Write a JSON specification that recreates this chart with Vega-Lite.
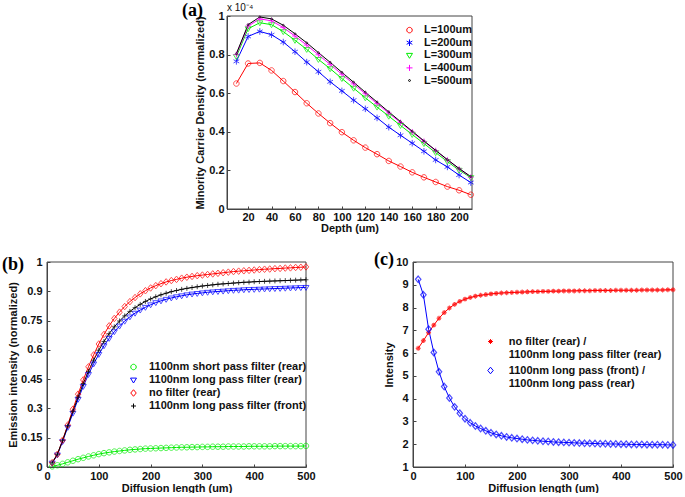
{
  "$schema": "https://vega.github.io/schema/vega-lite/v6.json",
  "background": "white",
  "padding": {"left": 2, "top": 2, "right": 0, "bottom": 0},
  "spacing": 17,
  "resolve": {"scale": {"color": "independent", "shape": "independent", "x": "independent", "y": "independent"}},
  "vconcat": [
    {
      "bounds": "flush",
      "spacing": 10,
      "resolve": {"scale": {"color": "independent", "shape": "independent", "x": "independent", "y": "independent"}},
      "hconcat": [
        {
          "width": 170, "height": 10,
          "view": {"stroke": null},
          "data": {"values": [{}]},
          "mark": {"type": "point", "opacity": 0}
        },
        {
          "width": 245, "height": 193,
          "title": {"text": "(a)", "dx": -45, "dy": 21},
          "data": {"values": [
            {"x":10,"s":"L=100um","y":0.650},{"x":20,"s":"L=100um","y":0.754},{"x":30,"s":"L=100um","y":0.757},{"x":40,"s":"L=100um","y":0.718},{"x":50,"s":"L=100um","y":0.663},{"x":60,"s":"L=100um","y":0.606},{"x":70,"s":"L=100um","y":0.548},{"x":80,"s":"L=100um","y":0.495},{"x":90,"s":"L=100um","y":0.445},{"x":100,"s":"L=100um","y":0.398},{"x":110,"s":"L=100um","y":0.356},{"x":120,"s":"L=100um","y":0.318},{"x":130,"s":"L=100um","y":0.284},{"x":140,"s":"L=100um","y":0.249},{"x":150,"s":"L=100um","y":0.220},{"x":160,"s":"L=100um","y":0.190},{"x":170,"s":"L=100um","y":0.164},{"x":180,"s":"L=100um","y":0.140},{"x":190,"s":"L=100um","y":0.116},{"x":200,"s":"L=100um","y":0.097},{"x":210,"s":"L=100um","y":0.074},
            {"x":10,"s":"L=200um","y":0.765},{"x":20,"s":"L=200um","y":0.894},{"x":30,"s":"L=200um","y":0.920},{"x":40,"s":"L=200um","y":0.903},{"x":50,"s":"L=200um","y":0.865},{"x":60,"s":"L=200um","y":0.815},{"x":70,"s":"L=200um","y":0.761},{"x":80,"s":"L=200um","y":0.711},{"x":90,"s":"L=200um","y":0.659},{"x":100,"s":"L=200um","y":0.612},{"x":110,"s":"L=200um","y":0.564},{"x":120,"s":"L=200um","y":0.519},{"x":130,"s":"L=200um","y":0.472},{"x":140,"s":"L=200um","y":0.424},{"x":150,"s":"L=200um","y":0.382},{"x":160,"s":"L=200um","y":0.341},{"x":170,"s":"L=200um","y":0.299},{"x":180,"s":"L=200um","y":0.254},{"x":190,"s":"L=200um","y":0.218},{"x":200,"s":"L=200um","y":0.176},{"x":210,"s":"L=200um","y":0.137},
            {"x":10,"s":"L=300um","y":0.790},{"x":20,"s":"L=300um","y":0.934},{"x":30,"s":"L=300um","y":0.965},{"x":40,"s":"L=300um","y":0.955},{"x":50,"s":"L=300um","y":0.919},{"x":60,"s":"L=300um","y":0.874},{"x":70,"s":"L=300um","y":0.827},{"x":80,"s":"L=300um","y":0.775},{"x":90,"s":"L=300um","y":0.727},{"x":100,"s":"L=300um","y":0.676},{"x":110,"s":"L=300um","y":0.626},{"x":120,"s":"L=300um","y":0.576},{"x":130,"s":"L=300um","y":0.528},{"x":140,"s":"L=300um","y":0.481},{"x":150,"s":"L=300um","y":0.433},{"x":160,"s":"L=300um","y":0.386},{"x":170,"s":"L=300um","y":0.339},{"x":180,"s":"L=300um","y":0.292},{"x":190,"s":"L=300um","y":0.246},{"x":200,"s":"L=300um","y":0.201},{"x":210,"s":"L=300um","y":0.163},
            {"x":10,"s":"L=400um","y":0.800},{"x":20,"s":"L=400um","y":0.948},{"x":30,"s":"L=400um","y":0.985},{"x":40,"s":"L=400um","y":0.975},{"x":50,"s":"L=400um","y":0.940},{"x":60,"s":"L=400um","y":0.896},{"x":70,"s":"L=400um","y":0.849},{"x":80,"s":"L=400um","y":0.799},{"x":90,"s":"L=400um","y":0.749},{"x":100,"s":"L=400um","y":0.698},{"x":110,"s":"L=400um","y":0.648},{"x":120,"s":"L=400um","y":0.597},{"x":130,"s":"L=400um","y":0.546},{"x":140,"s":"L=400um","y":0.497},{"x":150,"s":"L=400um","y":0.448},{"x":160,"s":"L=400um","y":0.399},{"x":170,"s":"L=400um","y":0.350},{"x":180,"s":"L=400um","y":0.302},{"x":190,"s":"L=400um","y":0.254},{"x":200,"s":"L=400um","y":0.208},{"x":210,"s":"L=400um","y":0.165},
            {"x":10,"s":"L=500um","y":0.805},{"x":20,"s":"L=500um","y":0.955},{"x":30,"s":"L=500um","y":0.995},{"x":40,"s":"L=500um","y":0.985},{"x":50,"s":"L=500um","y":0.952},{"x":60,"s":"L=500um","y":0.908},{"x":70,"s":"L=500um","y":0.861},{"x":80,"s":"L=500um","y":0.810},{"x":90,"s":"L=500um","y":0.760},{"x":100,"s":"L=500um","y":0.708},{"x":110,"s":"L=500um","y":0.657},{"x":120,"s":"L=500um","y":0.605},{"x":130,"s":"L=500um","y":0.554},{"x":140,"s":"L=500um","y":0.503},{"x":150,"s":"L=500um","y":0.453},{"x":160,"s":"L=500um","y":0.403},{"x":170,"s":"L=500um","y":0.353},{"x":180,"s":"L=500um","y":0.304},{"x":190,"s":"L=500um","y":0.256},{"x":200,"s":"L=500um","y":0.210},{"x":210,"s":"L=500um","y":0.168}
          ]},
          "encoding": {
            "x": {"field": "x", "type": "quantitative", "scale": {"domain": [2, 211], "nice": false, "zero": false},
                  "axis": {"title": "Depth (um)", "values": [20,40,60,80,100,120,140,160,180,200], "labelPadding": 5, "titlePadding": 0}},
            "y": {"field": "y", "type": "quantitative", "scale": {"domain": [0, 1], "nice": false},
                  "axis": {"title": "Minority Carrier Density (normalized)", "values": [0,0.2,0.4,0.6,0.8,1], "format": ".1~f", "labelPadding": 6, "titlePadding": 3}}
          },
          "layer": [
            {
              "transform": [{"filter": {"and": [{"field": "s", "equal": "L=100um"}, {"field": "x", "equal": 10}]}}],
              "mark": {"type": "rect", "filled": false, "color": "#444", "strokeWidth": 1},
              "encoding": {"x": {"datum": 2}, "x2": {"datum": 211}, "y": {"datum": 0}, "y2": {"datum": 1}}
            },
            {
              "mark": {"type": "line", "strokeWidth": 1},
              "encoding": {
                "color": {"field": "s", "type": "nominal",
                  "scale": {"domain": ["L=100um","L=200um","L=300um","L=400um","L=500um"], "range": ["#ff0000","#0000ff","#00ee00","#ff00ff","#000000"]},
                  "legend": {"title": null, "orient": "none", "legendX": 177, "legendY": 8.6, "symbolSize": 30, "labelOffset": 9, "rowPadding": 0.6}}
              }
            },
            {
              "mark": {"type": "point", "filled": false, "strokeWidth": 1, "size": 30},
              "encoding": {
                "color": {"field": "s", "type": "nominal", "legend": null},
                "shape": {"field": "s", "type": "nominal", "legend": null,
                  "scale": {"domain": ["L=100um","L=200um","L=300um","L=400um","L=500um"],
                    "range": ["M1,0A1,1,0,1,1,-1,0A1,1,0,1,1,1,0", "M0,-1.2L0,1.2M-1.04,-0.6L1.04,0.6M-1.04,0.6L1.04,-0.6", "M-1.1,-0.7L1.1,-0.7L0,1.1Z", "M-1.1,0L1.1,0M0,-1.1L0,1.1", "M0.35,0A0.35,0.35,0,1,1,-0.35,0A0.35,0.35,0,1,1,0.35,0"]}}
              }
            },
            {
              "transform": [{"filter": {"and": [{"field": "s", "equal": "L=100um"}, {"field": "x", "equal": 10}]}}],
              "mark": {"type": "text", "align": "left", "baseline": "bottom", "dx": 0, "dy": -3, "fontSize": 10, "font": "Liberation Sans", "color": "#111", "text": "x 10⁻⁴"},
              "encoding": {"x": {"datum": 2}, "y": {"datum": 1}}
            }
          ]
        }
      ]
    },
    {
      "bounds": "flush",
      "spacing": 107,
      "resolve": {"scale": {"color": "independent", "shape": "independent", "x": "independent", "y": "independent"}},
      "hconcat": [
        {
          "width": 259, "height": 205,
          "title": {"text": "(b)", "dx": -45, "dy": 22},
          "data": {"values": [
            {"x":10,"s":"1100nm short pass filter (rear)","y":0.003},{"x":20,"s":"1100nm short pass filter (rear)","y":0.009},{"x":30,"s":"1100nm short pass filter (rear)","y":0.016},{"x":40,"s":"1100nm short pass filter (rear)","y":0.024},{"x":50,"s":"1100nm short pass filter (rear)","y":0.032},{"x":60,"s":"1100nm short pass filter (rear)","y":0.040},{"x":70,"s":"1100nm short pass filter (rear)","y":0.047},{"x":80,"s":"1100nm short pass filter (rear)","y":0.054},{"x":90,"s":"1100nm short pass filter (rear)","y":0.060},{"x":100,"s":"1100nm short pass filter (rear)","y":0.066},
            {"x":110,"s":"1100nm short pass filter (rear)","y":0.071},{"x":120,"s":"1100nm short pass filter (rear)","y":0.075},{"x":130,"s":"1100nm short pass filter (rear)","y":0.079},{"x":140,"s":"1100nm short pass filter (rear)","y":0.082},{"x":150,"s":"1100nm short pass filter (rear)","y":0.085},{"x":160,"s":"1100nm short pass filter (rear)","y":0.088},{"x":170,"s":"1100nm short pass filter (rear)","y":0.090},{"x":180,"s":"1100nm short pass filter (rear)","y":0.092},{"x":190,"s":"1100nm short pass filter (rear)","y":0.094},{"x":200,"s":"1100nm short pass filter (rear)","y":0.095},
            {"x":210,"s":"1100nm short pass filter (rear)","y":0.096},{"x":220,"s":"1100nm short pass filter (rear)","y":0.097},{"x":230,"s":"1100nm short pass filter (rear)","y":0.098},{"x":240,"s":"1100nm short pass filter (rear)","y":0.099},{"x":250,"s":"1100nm short pass filter (rear)","y":0.100},{"x":260,"s":"1100nm short pass filter (rear)","y":0.101},{"x":270,"s":"1100nm short pass filter (rear)","y":0.101},{"x":280,"s":"1100nm short pass filter (rear)","y":0.102},{"x":290,"s":"1100nm short pass filter (rear)","y":0.102},{"x":300,"s":"1100nm short pass filter (rear)","y":0.103},
            {"x":310,"s":"1100nm short pass filter (rear)","y":0.103},{"x":320,"s":"1100nm short pass filter (rear)","y":0.104},{"x":330,"s":"1100nm short pass filter (rear)","y":0.104},{"x":340,"s":"1100nm short pass filter (rear)","y":0.104},{"x":350,"s":"1100nm short pass filter (rear)","y":0.105},{"x":360,"s":"1100nm short pass filter (rear)","y":0.105},{"x":370,"s":"1100nm short pass filter (rear)","y":0.105},{"x":380,"s":"1100nm short pass filter (rear)","y":0.105},{"x":390,"s":"1100nm short pass filter (rear)","y":0.106},{"x":400,"s":"1100nm short pass filter (rear)","y":0.106},
            {"x":410,"s":"1100nm short pass filter (rear)","y":0.106},{"x":420,"s":"1100nm short pass filter (rear)","y":0.106},{"x":430,"s":"1100nm short pass filter (rear)","y":0.106},{"x":440,"s":"1100nm short pass filter (rear)","y":0.107},{"x":450,"s":"1100nm short pass filter (rear)","y":0.107},{"x":460,"s":"1100nm short pass filter (rear)","y":0.107},{"x":470,"s":"1100nm short pass filter (rear)","y":0.107},{"x":480,"s":"1100nm short pass filter (rear)","y":0.107},{"x":490,"s":"1100nm short pass filter (rear)","y":0.107},{"x":500,"s":"1100nm short pass filter (rear)","y":0.108},
            {"x":10,"s":"1100nm long pass filter (rear)","y":0.020},{"x":20,"s":"1100nm long pass filter (rear)","y":0.062},{"x":30,"s":"1100nm long pass filter (rear)","y":0.130},{"x":40,"s":"1100nm long pass filter (rear)","y":0.203},{"x":50,"s":"1100nm long pass filter (rear)","y":0.276},{"x":60,"s":"1100nm long pass filter (rear)","y":0.347},{"x":70,"s":"1100nm long pass filter (rear)","y":0.413},{"x":80,"s":"1100nm long pass filter (rear)","y":0.474},{"x":90,"s":"1100nm long pass filter (rear)","y":0.528},{"x":100,"s":"1100nm long pass filter (rear)","y":0.577},
            {"x":110,"s":"1100nm long pass filter (rear)","y":0.621},{"x":120,"s":"1100nm long pass filter (rear)","y":0.659},{"x":130,"s":"1100nm long pass filter (rear)","y":0.693},{"x":140,"s":"1100nm long pass filter (rear)","y":0.722},{"x":150,"s":"1100nm long pass filter (rear)","y":0.747},{"x":160,"s":"1100nm long pass filter (rear)","y":0.769},{"x":170,"s":"1100nm long pass filter (rear)","y":0.788},{"x":180,"s":"1100nm long pass filter (rear)","y":0.804},{"x":190,"s":"1100nm long pass filter (rear)","y":0.818},{"x":200,"s":"1100nm long pass filter (rear)","y":0.831},
            {"x":210,"s":"1100nm long pass filter (rear)","y":0.842},{"x":220,"s":"1100nm long pass filter (rear)","y":0.851},{"x":230,"s":"1100nm long pass filter (rear)","y":0.859},{"x":240,"s":"1100nm long pass filter (rear)","y":0.866},{"x":250,"s":"1100nm long pass filter (rear)","y":0.872},{"x":260,"s":"1100nm long pass filter (rear)","y":0.877},{"x":270,"s":"1100nm long pass filter (rear)","y":0.882},{"x":280,"s":"1100nm long pass filter (rear)","y":0.886},{"x":290,"s":"1100nm long pass filter (rear)","y":0.889},{"x":300,"s":"1100nm long pass filter (rear)","y":0.892},
            {"x":310,"s":"1100nm long pass filter (rear)","y":0.895},{"x":320,"s":"1100nm long pass filter (rear)","y":0.897},{"x":330,"s":"1100nm long pass filter (rear)","y":0.899},{"x":340,"s":"1100nm long pass filter (rear)","y":0.901},{"x":350,"s":"1100nm long pass filter (rear)","y":0.903},{"x":360,"s":"1100nm long pass filter (rear)","y":0.905},{"x":370,"s":"1100nm long pass filter (rear)","y":0.906},{"x":380,"s":"1100nm long pass filter (rear)","y":0.908},{"x":390,"s":"1100nm long pass filter (rear)","y":0.909},{"x":400,"s":"1100nm long pass filter (rear)","y":0.910},
            {"x":410,"s":"1100nm long pass filter (rear)","y":0.911},{"x":420,"s":"1100nm long pass filter (rear)","y":0.912},{"x":430,"s":"1100nm long pass filter (rear)","y":0.913},{"x":440,"s":"1100nm long pass filter (rear)","y":0.914},{"x":450,"s":"1100nm long pass filter (rear)","y":0.915},{"x":460,"s":"1100nm long pass filter (rear)","y":0.916},{"x":470,"s":"1100nm long pass filter (rear)","y":0.917},{"x":480,"s":"1100nm long pass filter (rear)","y":0.918},{"x":490,"s":"1100nm long pass filter (rear)","y":0.919},{"x":500,"s":"1100nm long pass filter (rear)","y":0.920},
            {"x":10,"s":"no filter (rear)","y":0.022},{"x":20,"s":"no filter (rear)","y":0.065},{"x":30,"s":"no filter (rear)","y":0.137},{"x":40,"s":"no filter (rear)","y":0.215},{"x":50,"s":"no filter (rear)","y":0.296},{"x":60,"s":"no filter (rear)","y":0.373},{"x":70,"s":"no filter (rear)","y":0.446},{"x":80,"s":"no filter (rear)","y":0.513},{"x":90,"s":"no filter (rear)","y":0.574},{"x":100,"s":"no filter (rear)","y":0.630},
            {"x":110,"s":"no filter (rear)","y":0.679},{"x":120,"s":"no filter (rear)","y":0.723},{"x":130,"s":"no filter (rear)","y":0.761},{"x":140,"s":"no filter (rear)","y":0.793},{"x":150,"s":"no filter (rear)","y":0.822},{"x":160,"s":"no filter (rear)","y":0.847},{"x":170,"s":"no filter (rear)","y":0.868},{"x":180,"s":"no filter (rear)","y":0.887},{"x":190,"s":"no filter (rear)","y":0.903},{"x":200,"s":"no filter (rear)","y":0.917},
            {"x":210,"s":"no filter (rear)","y":0.929},{"x":220,"s":"no filter (rear)","y":0.939},{"x":230,"s":"no filter (rear)","y":0.948},{"x":240,"s":"no filter (rear)","y":0.955},{"x":250,"s":"no filter (rear)","y":0.961},{"x":260,"s":"no filter (rear)","y":0.967},{"x":270,"s":"no filter (rear)","y":0.972},{"x":280,"s":"no filter (rear)","y":0.976},{"x":290,"s":"no filter (rear)","y":0.980},{"x":300,"s":"no filter (rear)","y":0.983},
            {"x":310,"s":"no filter (rear)","y":0.986},{"x":320,"s":"no filter (rear)","y":0.989},{"x":330,"s":"no filter (rear)","y":0.992},{"x":340,"s":"no filter (rear)","y":0.995},{"x":350,"s":"no filter (rear)","y":0.998},{"x":360,"s":"no filter (rear)","y":1.001},{"x":370,"s":"no filter (rear)","y":1.003},{"x":380,"s":"no filter (rear)","y":1.005},{"x":390,"s":"no filter (rear)","y":1.007},{"x":400,"s":"no filter (rear)","y":1.009},
            {"x":410,"s":"no filter (rear)","y":1.011},{"x":420,"s":"no filter (rear)","y":1.013},{"x":430,"s":"no filter (rear)","y":1.014},{"x":440,"s":"no filter (rear)","y":1.016},{"x":450,"s":"no filter (rear)","y":1.017},{"x":460,"s":"no filter (rear)","y":1.019},{"x":470,"s":"no filter (rear)","y":1.020},{"x":480,"s":"no filter (rear)","y":1.022},{"x":490,"s":"no filter (rear)","y":1.023},{"x":500,"s":"no filter (rear)","y":1.025},
            {"x":10,"s":"1100nm long pass filter (front)","y":0.022},{"x":20,"s":"1100nm long pass filter (front)","y":0.065},{"x":30,"s":"1100nm long pass filter (front)","y":0.135},{"x":40,"s":"1100nm long pass filter (front)","y":0.210},{"x":50,"s":"1100nm long pass filter (front)","y":0.285},{"x":60,"s":"1100nm long pass filter (front)","y":0.358},{"x":70,"s":"1100nm long pass filter (front)","y":0.427},{"x":80,"s":"1100nm long pass filter (front)","y":0.490},{"x":90,"s":"1100nm long pass filter (front)","y":0.547},{"x":100,"s":"1100nm long pass filter (front)","y":0.598},
            {"x":110,"s":"1100nm long pass filter (front)","y":0.643},{"x":120,"s":"1100nm long pass filter (front)","y":0.683},{"x":130,"s":"1100nm long pass filter (front)","y":0.718},{"x":140,"s":"1100nm long pass filter (front)","y":0.748},{"x":150,"s":"1100nm long pass filter (front)","y":0.774},{"x":160,"s":"1100nm long pass filter (front)","y":0.797},{"x":170,"s":"1100nm long pass filter (front)","y":0.816},{"x":180,"s":"1100nm long pass filter (front)","y":0.833},{"x":190,"s":"1100nm long pass filter (front)","y":0.848},{"x":200,"s":"1100nm long pass filter (front)","y":0.861},
            {"x":210,"s":"1100nm long pass filter (front)","y":0.872},{"x":220,"s":"1100nm long pass filter (front)","y":0.882},{"x":230,"s":"1100nm long pass filter (front)","y":0.890},{"x":240,"s":"1100nm long pass filter (front)","y":0.898},{"x":250,"s":"1100nm long pass filter (front)","y":0.904},{"x":260,"s":"1100nm long pass filter (front)","y":0.910},{"x":270,"s":"1100nm long pass filter (front)","y":0.915},{"x":280,"s":"1100nm long pass filter (front)","y":0.919},{"x":290,"s":"1100nm long pass filter (front)","y":0.923},{"x":300,"s":"1100nm long pass filter (front)","y":0.927},
            {"x":310,"s":"1100nm long pass filter (front)","y":0.930},{"x":320,"s":"1100nm long pass filter (front)","y":0.933},{"x":330,"s":"1100nm long pass filter (front)","y":0.936},{"x":340,"s":"1100nm long pass filter (front)","y":0.938},{"x":350,"s":"1100nm long pass filter (front)","y":0.940},{"x":360,"s":"1100nm long pass filter (front)","y":0.942},{"x":370,"s":"1100nm long pass filter (front)","y":0.944},{"x":380,"s":"1100nm long pass filter (front)","y":0.946},{"x":390,"s":"1100nm long pass filter (front)","y":0.947},{"x":400,"s":"1100nm long pass filter (front)","y":0.949},
            {"x":410,"s":"1100nm long pass filter (front)","y":0.950},{"x":420,"s":"1100nm long pass filter (front)","y":0.951},{"x":430,"s":"1100nm long pass filter (front)","y":0.952},{"x":440,"s":"1100nm long pass filter (front)","y":0.953},{"x":450,"s":"1100nm long pass filter (front)","y":0.954},{"x":460,"s":"1100nm long pass filter (front)","y":0.955},{"x":470,"s":"1100nm long pass filter (front)","y":0.956},{"x":480,"s":"1100nm long pass filter (front)","y":0.957},{"x":490,"s":"1100nm long pass filter (front)","y":0.958},{"x":500,"s":"1100nm long pass filter (front)","y":0.959}
          ]},
          "encoding": {
            "x": {"field": "x", "type": "quantitative", "scale": {"domain": [0, 500], "nice": false},
                  "axis": {"title": "Diffusion length (um)", "values": [0,100,200,300,400,500], "labelPadding": 6, "titlePadding": 1}},
            "y": {"field": "y", "type": "quantitative", "scale": {"domain": [0, 1.05], "nice": false},
                  "axis": {"title": "Emission intensity (normalized)", "values": [0,0.15,0.3,0.45,0.6,0.75,0.9,1.05], "labelExpr": "datum.value > 1 ? '1' : format(datum.value, '.2~f')", "labelPadding": 8, "titlePadding": 2}}
          },
          "layer": [
            {
              "transform": [{"filter": {"and": [{"field": "s", "equal": "no filter (rear)"}, {"field": "x", "equal": 10}]}}],
              "mark": {"type": "rect", "filled": false, "color": "#444", "strokeWidth": 1},
              "encoding": {"x": {"datum": 0}, "x2": {"datum": 500}, "y": {"datum": 0}, "y2": {"datum": 1.05}}
            },
            {
              "mark": {"type": "line", "strokeWidth": 1},
              "encoding": {
                "color": {"field": "s", "type": "nominal",
                  "scale": {"domain": ["1100nm short pass filter (rear)","1100nm long pass filter (rear)","no filter (rear)","1100nm long pass filter (front)"], "range": ["#00ee00","#0000ff","#ff0000","#000000"]},
                  "legend": {"title": null, "orient": "none", "legendX": 81, "legendY": 99.5, "symbolSize": 30, "labelOffset": 10, "rowPadding": 1}}
              }
            },
            {
              "mark": {"type": "point", "filled": false, "strokeWidth": 1, "size": 30},
              "encoding": {
                "color": {"field": "s", "type": "nominal", "legend": null},
                "shape": {"field": "s", "type": "nominal", "legend": null,
                  "scale": {"domain": ["1100nm short pass filter (rear)","1100nm long pass filter (rear)","no filter (rear)","1100nm long pass filter (front)"],
                    "range": ["M1,0A1,1,0,1,1,-1,0A1,1,0,1,1,1,0", "M-1.1,-0.7L1.1,-0.7L0,1.1Z", "M0,-1.2L1,0L0,1.2L-1,0Z", "M-0.9,0L0.9,0M0,-0.9L0,0.9"]}}
              }
            }
          ]
        },
        {
          "width": 260, "height": 205,
          "title": {"text": "(c)", "dx": -39, "dy": 16.7},
          "data": {"values": [
            {"x":10,"s":"no filter (rear) / 1100nm long pass filter (rear)","y":6.21},{"x":20,"s":"no filter (rear) / 1100nm long pass filter (rear)","y":6.55},{"x":30,"s":"no filter (rear) / 1100nm long pass filter (rear)","y":6.90},{"x":40,"s":"no filter (rear) / 1100nm long pass filter (rear)","y":7.23},{"x":50,"s":"no filter (rear) / 1100nm long pass filter (rear)","y":7.53},{"x":60,"s":"no filter (rear) / 1100nm long pass filter (rear)","y":7.78},{"x":70,"s":"no filter (rear) / 1100nm long pass filter (rear)","y":7.98},{"x":80,"s":"no filter (rear) / 1100nm long pass filter (rear)","y":8.14},{"x":90,"s":"no filter (rear) / 1100nm long pass filter (rear)","y":8.27},{"x":100,"s":"no filter (rear) / 1100nm long pass filter (rear)","y":8.37},
            {"x":110,"s":"no filter (rear) / 1100nm long pass filter (rear)","y":8.44},{"x":120,"s":"no filter (rear) / 1100nm long pass filter (rear)","y":8.50},{"x":130,"s":"no filter (rear) / 1100nm long pass filter (rear)","y":8.54},{"x":140,"s":"no filter (rear) / 1100nm long pass filter (rear)","y":8.57},{"x":150,"s":"no filter (rear) / 1100nm long pass filter (rear)","y":8.60},{"x":160,"s":"no filter (rear) / 1100nm long pass filter (rear)","y":8.62},{"x":170,"s":"no filter (rear) / 1100nm long pass filter (rear)","y":8.64},{"x":180,"s":"no filter (rear) / 1100nm long pass filter (rear)","y":8.65},{"x":190,"s":"no filter (rear) / 1100nm long pass filter (rear)","y":8.66},{"x":200,"s":"no filter (rear) / 1100nm long pass filter (rear)","y":8.67},
            {"x":210,"s":"no filter (rear) / 1100nm long pass filter (rear)","y":8.68},{"x":220,"s":"no filter (rear) / 1100nm long pass filter (rear)","y":8.69},{"x":230,"s":"no filter (rear) / 1100nm long pass filter (rear)","y":8.70},{"x":240,"s":"no filter (rear) / 1100nm long pass filter (rear)","y":8.70},{"x":250,"s":"no filter (rear) / 1100nm long pass filter (rear)","y":8.71},{"x":260,"s":"no filter (rear) / 1100nm long pass filter (rear)","y":8.71},{"x":270,"s":"no filter (rear) / 1100nm long pass filter (rear)","y":8.72},{"x":280,"s":"no filter (rear) / 1100nm long pass filter (rear)","y":8.72},{"x":290,"s":"no filter (rear) / 1100nm long pass filter (rear)","y":8.73},{"x":300,"s":"no filter (rear) / 1100nm long pass filter (rear)","y":8.73},
            {"x":310,"s":"no filter (rear) / 1100nm long pass filter (rear)","y":8.73},{"x":320,"s":"no filter (rear) / 1100nm long pass filter (rear)","y":8.74},{"x":330,"s":"no filter (rear) / 1100nm long pass filter (rear)","y":8.74},{"x":340,"s":"no filter (rear) / 1100nm long pass filter (rear)","y":8.74},{"x":350,"s":"no filter (rear) / 1100nm long pass filter (rear)","y":8.75},{"x":360,"s":"no filter (rear) / 1100nm long pass filter (rear)","y":8.75},{"x":370,"s":"no filter (rear) / 1100nm long pass filter (rear)","y":8.75},{"x":380,"s":"no filter (rear) / 1100nm long pass filter (rear)","y":8.75},{"x":390,"s":"no filter (rear) / 1100nm long pass filter (rear)","y":8.76},{"x":400,"s":"no filter (rear) / 1100nm long pass filter (rear)","y":8.76},
            {"x":410,"s":"no filter (rear) / 1100nm long pass filter (rear)","y":8.76},{"x":420,"s":"no filter (rear) / 1100nm long pass filter (rear)","y":8.76},{"x":430,"s":"no filter (rear) / 1100nm long pass filter (rear)","y":8.76},{"x":440,"s":"no filter (rear) / 1100nm long pass filter (rear)","y":8.77},{"x":450,"s":"no filter (rear) / 1100nm long pass filter (rear)","y":8.77},{"x":460,"s":"no filter (rear) / 1100nm long pass filter (rear)","y":8.77},{"x":470,"s":"no filter (rear) / 1100nm long pass filter (rear)","y":8.77},{"x":480,"s":"no filter (rear) / 1100nm long pass filter (rear)","y":8.77},{"x":490,"s":"no filter (rear) / 1100nm long pass filter (rear)","y":8.78},{"x":500,"s":"no filter (rear) / 1100nm long pass filter (rear)","y":8.78},
            {"x":10,"s":"1100nm long pass (front) / 1100nm long pass (rear)","y":9.24},{"x":20,"s":"1100nm long pass (front) / 1100nm long pass (rear)","y":8.56},{"x":30,"s":"1100nm long pass (front) / 1100nm long pass (rear)","y":7.05},{"x":40,"s":"1100nm long pass (front) / 1100nm long pass (rear)","y":6.03},{"x":50,"s":"1100nm long pass (front) / 1100nm long pass (rear)","y":5.18},{"x":60,"s":"1100nm long pass (front) / 1100nm long pass (rear)","y":4.53},{"x":70,"s":"1100nm long pass (front) / 1100nm long pass (rear)","y":4.03},{"x":80,"s":"1100nm long pass (front) / 1100nm long pass (rear)","y":3.64},{"x":90,"s":"1100nm long pass (front) / 1100nm long pass (rear)","y":3.36},{"x":100,"s":"1100nm long pass (front) / 1100nm long pass (rear)","y":3.12},
            {"x":110,"s":"1100nm long pass (front) / 1100nm long pass (rear)","y":2.94},{"x":120,"s":"1100nm long pass (front) / 1100nm long pass (rear)","y":2.80},{"x":130,"s":"1100nm long pass (front) / 1100nm long pass (rear)","y":2.69},{"x":140,"s":"1100nm long pass (front) / 1100nm long pass (rear)","y":2.59},{"x":150,"s":"1100nm long pass (front) / 1100nm long pass (rear)","y":2.50},{"x":160,"s":"1100nm long pass (front) / 1100nm long pass (rear)","y":2.43},{"x":170,"s":"1100nm long pass (front) / 1100nm long pass (rear)","y":2.37},{"x":180,"s":"1100nm long pass (front) / 1100nm long pass (rear)","y":2.32},{"x":190,"s":"1100nm long pass (front) / 1100nm long pass (rear)","y":2.28},{"x":200,"s":"1100nm long pass (front) / 1100nm long pass (rear)","y":2.25},
            {"x":210,"s":"1100nm long pass (front) / 1100nm long pass (rear)","y":2.22},{"x":220,"s":"1100nm long pass (front) / 1100nm long pass (rear)","y":2.19},{"x":230,"s":"1100nm long pass (front) / 1100nm long pass (rear)","y":2.17},{"x":240,"s":"1100nm long pass (front) / 1100nm long pass (rear)","y":2.15},{"x":250,"s":"1100nm long pass (front) / 1100nm long pass (rear)","y":2.13},{"x":260,"s":"1100nm long pass (front) / 1100nm long pass (rear)","y":2.12},{"x":270,"s":"1100nm long pass (front) / 1100nm long pass (rear)","y":2.10},{"x":280,"s":"1100nm long pass (front) / 1100nm long pass (rear)","y":2.09},{"x":290,"s":"1100nm long pass (front) / 1100nm long pass (rear)","y":2.08},{"x":300,"s":"1100nm long pass (front) / 1100nm long pass (rear)","y":2.07},
            {"x":310,"s":"1100nm long pass (front) / 1100nm long pass (rear)","y":2.06},{"x":320,"s":"1100nm long pass (front) / 1100nm long pass (rear)","y":2.05},{"x":330,"s":"1100nm long pass (front) / 1100nm long pass (rear)","y":2.04},{"x":340,"s":"1100nm long pass (front) / 1100nm long pass (rear)","y":2.04},{"x":350,"s":"1100nm long pass (front) / 1100nm long pass (rear)","y":2.03},{"x":360,"s":"1100nm long pass (front) / 1100nm long pass (rear)","y":2.02},{"x":370,"s":"1100nm long pass (front) / 1100nm long pass (rear)","y":2.02},{"x":380,"s":"1100nm long pass (front) / 1100nm long pass (rear)","y":2.01},{"x":390,"s":"1100nm long pass (front) / 1100nm long pass (rear)","y":2.01},{"x":400,"s":"1100nm long pass (front) / 1100nm long pass (rear)","y":2.00},
            {"x":410,"s":"1100nm long pass (front) / 1100nm long pass (rear)","y":2.00},{"x":420,"s":"1100nm long pass (front) / 1100nm long pass (rear)","y":1.99},{"x":430,"s":"1100nm long pass (front) / 1100nm long pass (rear)","y":1.99},{"x":440,"s":"1100nm long pass (front) / 1100nm long pass (rear)","y":1.99},{"x":450,"s":"1100nm long pass (front) / 1100nm long pass (rear)","y":1.98},{"x":460,"s":"1100nm long pass (front) / 1100nm long pass (rear)","y":1.98},{"x":470,"s":"1100nm long pass (front) / 1100nm long pass (rear)","y":1.98},{"x":480,"s":"1100nm long pass (front) / 1100nm long pass (rear)","y":1.98},{"x":490,"s":"1100nm long pass (front) / 1100nm long pass (rear)","y":1.97},{"x":500,"s":"1100nm long pass (front) / 1100nm long pass (rear)","y":1.97}
          ]},
          "encoding": {
            "x": {"field": "x", "type": "quantitative", "scale": {"domain": [0, 500], "nice": false},
                  "axis": {"title": "Diffusion length (um)", "values": [0,100,200,300,400,500], "labelPadding": 6, "titlePadding": 1}},
            "y": {"field": "y", "type": "quantitative", "scale": {"domain": [1, 10], "nice": false, "zero": false},
                  "axis": {"title": "Intensity", "values": [1,2,3,4,5,6,7,8,9,10], "labelPadding": 8, "titlePadding": 1}}
          },
          "layer": [
            {
              "transform": [{"filter": {"and": [{"field": "s", "equal": "no filter (rear) / 1100nm long pass filter (rear)"}, {"field": "x", "equal": 10}]}}],
              "mark": {"type": "rect", "filled": false, "color": "#444", "strokeWidth": 1},
              "encoding": {"x": {"datum": 0}, "x2": {"datum": 500}, "y": {"datum": 1}, "y2": {"datum": 10}}
            },
            {
              "mark": {"type": "line", "strokeWidth": 1},
              "encoding": {
                "color": {"field": "s", "type": "nominal",
                  "scale": {"domain": ["no filter (rear) / 1100nm long pass filter (rear)","1100nm long pass (front) / 1100nm long pass (rear)"], "range": ["#ff0000","#0000ff"]},
                  "legend": {"title": null, "orient": "none", "legendX": 72, "legendY": 74, "symbolSize": 30, "labelOffset": 12.7, "rowPadding": 4,
                    "labelExpr": "split(replace(datum.label, ' / ', ' /|'), '|')"}}
              }
            },
            {
              "mark": {"type": "point", "filled": false, "strokeWidth": 1.2, "size": 30},
              "encoding": {
                "color": {"field": "s", "type": "nominal", "legend": null},
                "shape": {"field": "s", "type": "nominal", "legend": null,
                  "scale": {"domain": ["no filter (rear) / 1100nm long pass filter (rear)","1100nm long pass (front) / 1100nm long pass (rear)"],
                    "range": ["M-0.9,0L0.9,0M0,-0.9L0,0.9M-0.6,-0.6L0.6,0.6M-0.6,0.6L0.6,-0.6", "M0,-1.2L1,0L0,1.2L-1,0Z"]}}
              }
            }
          ]
        }
      ]
    }
  ],
  "config": {
    "font": "Liberation Sans",
    "view": {"stroke": null},
    "axis": {"grid": false, "domainColor": "#444", "tickColor": "#444", "tickSize": -3, "labelFlush": false,
             "labelFont": "Liberation Sans", "labelFontSize": 11, "labelFontWeight": "bold", "labelColor": "#111",
             "titleFont": "Liberation Sans", "titleFontSize": 11, "titleFontWeight": "bold", "titleColor": "#111"},
    "legend": {"labelFont": "Liberation Sans", "labelFontSize": 11, "labelFontWeight": "bold", "labelColor": "#111", "padding": 0, "symbolStrokeWidth": 1, "labelLimit": 400},
    "title": {"font": "Liberation Serif", "fontSize": 18, "fontWeight": "bold", "anchor": "start", "frame": "group", "offset": 0, "color": "#000"}
  }
}
